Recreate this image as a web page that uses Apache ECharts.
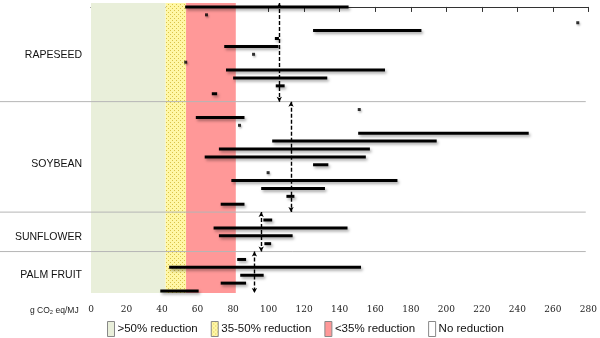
<!DOCTYPE html>
<html><head><meta charset="utf-8">
<script src="https://cdn.jsdelivr.net/npm/echarts@6/dist/echarts.min.js"></script>
<style>html,body{margin:0;padding:0;background:#fff}#c{width:600px;height:338px}</style>
</head><body><div id="c"></div>
<script>
// ---- data ----
const xTicks = [0,20,40,60,80,100,120,140,160,180,200,220,240,260,280];
const groups = ['RAPESEED','SOYBEAN','SUNFLOWER','PALM FRUIT'];
const groupLabelRows = [6.1, 19.9, 29.2, 34];
const separatorRows = [12, 26, 31];
const bandNames = ['>50% reduction','35-50% reduction','<35% reduction','No reduction'];
const bandRanges = [[0,42],[42,53.5],[53.5,81.5],[81.5,81.5]];
// ranges: [low, high, row]
const rapeseedRanges = [[53,145,0],[125,186,3],[103.5,105.8,4],[75,105.5,5],[76,165.5,8],[80,133,9],[104,109,10],[68,71,11]];
const rapeseedPoints = [[65,1],[274,2],[91.5,6],[53.3,7]];
const soybeanRanges = [[59,86.4,14],[150.4,246.4,16],[102,194.6,17],[72,157,18],[64,154.7,19],[125,133.6,20],[79,172.5,22],[95.8,131.7,23],[110,114.5,24],[73,86.4,25]];
const soybeanPoints = [[151,13],[83.6,15],[99.7,21]];
const sunflowerRanges = [[97,102,27],[69,144.4,28],[72,113.5,29],[97.6,101.4,30]];
const palmRanges = [[82.3,87.3,32],[44,152,33],[84,97.2,34],[73,87.3,35],[39,60.6,36]];
// mean lines: [value, rowFrom, rowTo]
const meanLines = [[106,-0.5,12],[112.6,12,26],[95.8,26,31],[92,31,36.25]];

// ---- pattern for yellow band ----
const pc = document.createElement('canvas');
pc.width = 4; pc.height = 4;
const g = pc.getContext('2d');
g.fillStyle = '#fff7a6'; g.fillRect(0,0,4,4);
g.fillStyle = '#d9c24a'; g.fillRect(0,0,1,1); g.fillRect(2,2,1,1);
const yellowPattern = {image: pc, repeat: 'repeat'};

const bandFills = ['#e9efda', yellowPattern, '#ff9898', '#ffffff'];
const Y_MIN = -0.5, Y_MAX = 36.25;

const chart = echarts.init(document.getElementById('c'));

function rangeItem(params, api){
  const a = api.coord([api.value(0), api.value(2)]);
  const b = api.coord([api.value(1), api.value(2)]);
  return {type:'line', shape:{x1:a[0],y1:a[1],x2:b[0],y2:b[1]},
    style:{stroke:'#000', lineWidth:3, shadowBlur:3, shadowColor:'rgba(0,0,0,0.35)', shadowOffsetX:1.5, shadowOffsetY:2}};
}
function rangeSeries(name, data){
  return {type:'custom', name:name, data:data, encode:{x:[0,1], y:2}, renderItem:rangeItem, z:5, silent:true};
}
function pointSeries(name, data){
  return {type:'scatter', name:name, data:data, symbol:'rect', symbolSize:3, z:5, silent:true,
    itemStyle:{color:'#000', shadowBlur:2, shadowColor:'rgba(0,0,0,0.35)', shadowOffsetX:1, shadowOffsetY:1.5}};
}

const series = [];
bandNames.forEach((n,i)=>{
  series.push({type:'custom', name:n, z:1, silent:true,
    itemStyle:{color: bandFills[i], borderColor:'#888', borderWidth:1},
    data:[bandRanges[i]], encode:{x:[0,1]},
    renderItem:(params, api)=>{
      const p1 = api.coord([api.value(0), Y_MIN]);
      const p2 = api.coord([api.value(1), Y_MAX]);
      return {type:'rect', shape:{x:p1[0], y:p1[1], width:p2[0]-p1[0], height:p2[1]-p1[1]},
        style:{fill: bandFills[i]}};
    }});
});
series.push({type:'custom', name:'sep', z:2, silent:true, data:separatorRows.map(r=>[278.5, r]),
  encode:{x:0,y:1},
  renderItem:(params, api)=>{
    const p = api.coord([api.value(0), api.value(1)]);
    return {type:'line', shape:{x1:0, y1:p[1], x2:p[0], y2:p[1]}, style:{stroke:'#b5b5b5', lineWidth:1}};
  }});
series.push({type:'custom', name:'labels', z:3, silent:true,
  data:groupLabelRows.map(r=>[0, r]), encode:{x:0,y:1},
  renderItem:(params, api)=>{
    const p = api.coord([0, api.value(1)]);
    return {type:'text', x:p[0]-9, y:p[1],
      style:{text: groups[params.dataIndex], align:'right', verticalAlign:'middle',
        fontSize:10.5, fontFamily:'Liberation Sans', fill:'#111'}};
  }});
series.push(rangeSeries('rapeseed', rapeseedRanges));
series.push(pointSeries('rapeseedPts', rapeseedPoints));
series.push(rangeSeries('soybean', soybeanRanges));
series.push(pointSeries('soybeanPts', soybeanPoints));
series.push(rangeSeries('sunflower', sunflowerRanges));
series.push(rangeSeries('palm', palmRanges));
series.push({type:'line', name:'means', data:[], z:6, silent:true,
  markLine:{silent:true, animation:false, symbol:['arrow','arrow'], symbolSize:[4,5],
    label:{show:false},
    lineStyle:{color:'#000', width:1.4, type:[4,2]},
    emphasis:{disabled:true},
    data: meanLines.map(m=>[{coord:[m[0], m[1]]},{coord:[m[0], m[2]]}])}});

chart.setOption({
  animation:false,
  grid:{left:91, right:10, top:3, bottom:45},
  xAxis:{type:'value', min:0, max:280, interval:20,
    axisLine:{lineStyle:{color:'#333', width:1}},
    axisTick:{length:5, lineStyle:{color:'#333'}},
    splitLine:{show:false},
    axisLabel:{fontFamily:'"DejaVu Serif Condensed", "Liberation Serif", serif', fontSize:10, color:'#222', margin:11,
      formatter:v=> xTicks.indexOf(v)>=0 ? String(v) : ''}},
  yAxis:{type:'value', inverse:true, min:Y_MIN, max:Y_MAX, show:false},
  legend:{data: bandNames.map((n,i)=>({name:n, icon:'rect',
      itemStyle:{color: bandFills[i], borderColor:'#888', borderWidth:1}})),
    left:107, top:321, padding:0, itemWidth:7, itemHeight:15, itemGap:13, selectedMode:false,
    textStyle:{fontFamily:'Liberation Sans', fontSize:11.5, color:'#111', padding:[0,0,0,-2]}},
  graphic:[{type:'text', left:30, top:306,
    style:{text:'g CO₂ eq/MJ', fontSize:8.5, fontFamily:'Liberation Sans', fill:'#222'}}],
  series: series
});
</script></body></html>
